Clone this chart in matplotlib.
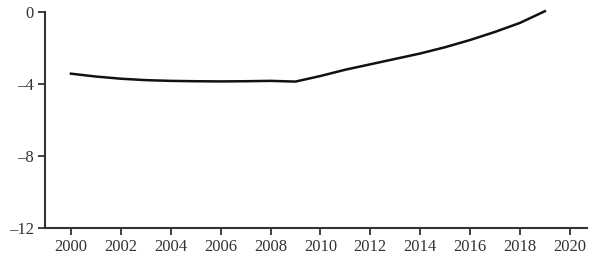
import numpy as np
import matplotlib
matplotlib.use("Agg")
import matplotlib.pyplot as plt

years = [2000, 2001, 2002, 2003, 2004, 2005, 2006, 2007, 2008, 2009,
         2010, 2011, 2012, 2013, 2014, 2015, 2016, 2017, 2018, 2019]
values = [-3.42, -3.58, -3.70, -3.78, -3.82, -3.84, -3.85, -3.84, -3.82, -3.86,
          -3.55, -3.20, -2.90, -2.60, -2.30, -1.95, -1.55, -1.10, -0.60, 0.05]
xticks = list(range(2000, 2021, 2))
yticks = [0, -4, -8, -12]
ylabels = ['0', '\u20134', '\u20138', '\u201312']

plt.rcParams['font.family'] = ['Liberation Serif', 'DejaVu Serif']

fig = plt.figure(figsize=(6, 2.69), dpi=100)
ax = fig.add_axes([0.075, 0.152, 0.903, 0.803])
ax.plot(years, values, color='#111111', lw=1.8, clip_on=False)

ax.set_xlim(1998.96, 2020.68)
ax.set_ylim(-12, 0)
ax.set_xticks(xticks)
ax.set_yticks(yticks)
ax.set_yticklabels(ylabels)
for s in ['top', 'right']:
    ax.spines[s].set_visible(False)
for s in ['left', 'bottom']:
    ax.spines[s].set_color('#333333')
    ax.spines[s].set_linewidth(1.5)
ax.tick_params(axis='both', direction='out', length=5, width=1.3,
               color='#333333', labelsize=12, labelcolor='#333333', pad=3)

plt.savefig("out.png", dpi=100)
